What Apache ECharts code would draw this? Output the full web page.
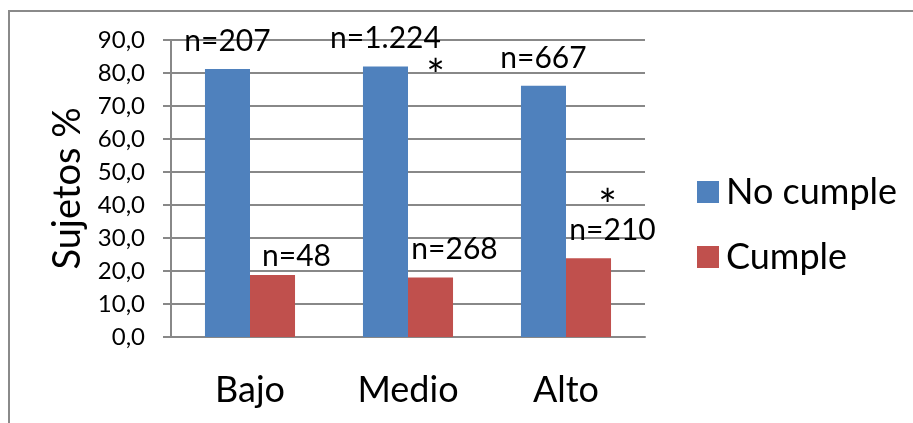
<!DOCTYPE html>
<html>
<head>
<meta charset="utf-8">
<script src="https://cdn.jsdelivr.net/npm/echarts@6/dist/echarts.min.js"></script>
<style>
  html, body { margin: 0; padding: 0; background: #ffffff; }
  #chart { width: 913px; height: 423px; }
</style>
</head>
<body>
<div id="chart"></div>
<script>
// Compliance by level: percentage of subjects and group sizes
const categories = ['Bajo', 'Medio', 'Alto'];
const noCumple = [81.2, 82.0, 76.1];
const cumple = [18.8, 18.0, 23.9];
const noCumpleN = ['n=207', 'n=1.224', 'n=667'];
const cumpleN = ['n=48', 'n=268', 'n=210'];
const noCumpleNote = ['', '*', ''];
const cumpleNote = ['', '', '*'];
const yTicks = [0, 10, 20, 30, 40, 50, 60, 70, 80, 90];

const FONT = 'Lato, Carlito, Calibri, sans-serif';
const BLUE = '#4F81BD';
const RED = '#C0504D';
const GRID = '#888888';

const chart = echarts.init(document.getElementById('chart'), null, { renderer: 'canvas' });

function fmtComma(v) {
  return v.toFixed(1).replace('.', ',');
}

// a note mark set just below-right of the blue label
const blueData = noCumple.map((v, i) => {
  const item = { value: v };
  if (noCumpleNote[i]) {
    item.label = {
      formatter: noCumpleN[i] + '\n{s|' + noCumpleNote[i] + '}',
      offset: [0, 46]
    };
  }
  return item;
});

// a note mark set above the red label
const redData = cumple.map((v, i) => {
  const item = { value: v };
  if (cumpleNote[i]) {
    item.label = {
      formatter: '{s|' + cumpleNote[i] + '}\n' + cumpleN[i],
      offset: [24, 0]
    };
  }
  if (i === 0) {
    item.label = Object.assign(item.label || {}, { distance: 4 });
  }
  return item;
});

chart.setOption({
  backgroundColor: '#ffffff',
  animation: false,
  textStyle: { fontFamily: FONT },
  graphic: [{
    type: 'rect',
    shape: { x: 9, y: 11, width: 1000, height: 1000 },
    style: { fill: 'none', stroke: '#8a8a8a', lineWidth: 2 },
    silent: true
  }],
  grid: { left: 171, right: 268, top: 40, bottom: 86, containLabel: false },
  legend: {
    orient: 'vertical',
    left: 692,
    top: 169,
    itemWidth: 22,
    itemHeight: 22,
    itemGap: 29,
    icon: 'rect',
    textStyle: { fontFamily: FONT, fontSize: 36, color: '#000', lineHeight: 36, padding: [0, 0, 0, 2] },
    data: ['No cumple', 'Cumple']
  },
  xAxis: {
    type: 'category',
    data: categories,
    axisLine: { lineStyle: { color: GRID, width: 2 } },
    axisTick: { show: false },
    axisLabel: { fontFamily: FONT, fontSize: 36, color: '#000', margin: 35 }
  },
  yAxis: {
    type: 'value',
    min: 0,
    max: 90,
    interval: 10,
    name: 'Sujetos %',
    nameLocation: 'middle',
    nameGap: 84,
    nameRotate: 90,
    nameTextStyle: { fontFamily: FONT, fontSize: 38, color: '#000' },
    axisLine: { show: true, lineStyle: { color: GRID, width: 2 } },
    axisTick: { show: true, inside: false, length: 8, lineStyle: { color: GRID, width: 2 } },
    splitLine: { show: true, lineStyle: { color: GRID, width: 2 } },
    axisLabel: {
      fontFamily: FONT, fontSize: 24, color: '#000', margin: 26,
      customValues: yTicks,
      formatter: fmtComma
    }
  },
  series: [
    {
      name: 'No cumple',
      type: 'bar',
      data: blueData,
      itemStyle: { color: BLUE },
      barWidth: '28.5%',
      barGap: '0%',
      label: {
        show: true,
        position: 'top',
        distance: 13,
        fontFamily: FONT,
        fontSize: 30,
        color: '#000',
        formatter: (p) => noCumpleN[p.dataIndex],
        rich: { s: { fontSize: 44, lineHeight: 46, padding: [0, 0, 0, 100], color: '#000', fontFamily: FONT } }
      }
    },
    {
      name: 'Cumple',
      type: 'bar',
      data: redData,
      itemStyle: { color: RED },
      barWidth: '28.5%',
      label: {
        show: true,
        position: 'top',
        distance: 13,
        offset: [24, 0],
        fontFamily: FONT,
        fontSize: 30,
        color: '#000',
        formatter: (p) => cumpleN[p.dataIndex],
        rich: { s: { fontSize: 44, lineHeight: 16, padding: [0, 10, 0, 0], color: '#000', fontFamily: FONT } }
      }
    }
  ]
});
</script>
</body>
</html>
